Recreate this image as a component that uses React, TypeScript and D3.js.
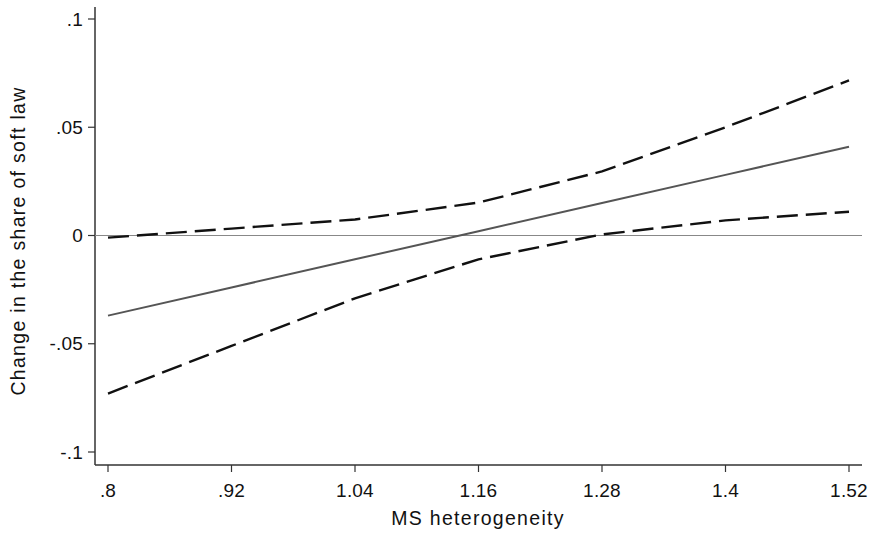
import React from "react";
import * as d3 from "d3";

// values
const xTicks = [0.8, 0.92, 1.04, 1.16, 1.28, 1.4, 1.52];
const xTickLabels = [".8", ".92", "1.04", "1.16", "1.28", "1.4", "1.52"];
const yTicks = [0.1, 0.05, 0, -0.05, -0.1];
const yTickLabels = [".1", ".05", "0", "-.05", "-.1"];

const xs = [0.8, 0.92, 1.04, 1.16, 1.28, 1.4, 1.52];
const effect = [-0.037, -0.024, -0.011, 0.002, 0.015, 0.028, 0.041];
const upper = [-0.001, 0.0032, 0.0074, 0.0152, 0.0296, 0.05, 0.0716];
const lower = [-0.073, -0.051, -0.029, -0.011, 0.0005, 0.007, 0.011];

const W = 876;
const H = 534;
const font = "'Liberation Sans', Arial, sans-serif";

const App = () => {
  const x = d3.scaleLinear().domain([0.8, 1.52]).range([108, 849]);
  const y = d3.scaleLinear().domain([-0.1, 0.1]).range([452, 19]);
  const axisX = 95;
  const axisY = 465;

  const line = (vals: number[]) =>
    d3.line<number>().x((_, i) => x(xs[i])).y((d) => y(d))(vals) || "";

  return (
    <svg
      width={W}
      height={H}
      style={{ position: "absolute", left: 0, top: 0, background: "#fff" }}
      fontFamily={font}
    >
      {/* axes */}
      <line x1={axisX} x2={axisX} y1={7} y2={axisY} stroke="#333" strokeWidth={1.5} />
      <line x1={axisX} x2={862} y1={axisY} y2={axisY} stroke="#333" strokeWidth={1.5} />

      {yTicks.map((t, i) => (
        <g key={"y" + i}>
          <line x1={axisX - 7} x2={axisX} y1={y(t)} y2={y(t)} stroke="#333" strokeWidth={1.2} />
          <text x={axisX - 12} y={y(t)} dy="0.35em" textAnchor="end" fontSize={19} letterSpacing={0.2} fill="#111">
            {yTickLabels[i]}
          </text>
        </g>
      ))}

      {xTicks.map((t, i) => (
        <g key={"x" + i}>
          <line x1={x(t)} x2={x(t)} y1={axisY} y2={axisY + 7} stroke="#333" strokeWidth={1.2} />
          <text x={x(t)} y={497} textAnchor="middle" fontSize={19} letterSpacing={0.2} fill="#111">
            {xTickLabels[i]}
          </text>
        </g>
      ))}

      {/* zero reference line */}
      <line x1={axisX} x2={862} y1={y(0)} y2={y(0)} stroke="#888" strokeWidth={1.2} />

      {/* confidence bounds */}
      <path d={line(upper)} fill="none" stroke="#111" strokeWidth={2.4} strokeDasharray="21,8" />
      <path d={line(lower)} fill="none" stroke="#111" strokeWidth={2.4} strokeDasharray="21,8" />

      {/* marginal effect */}
      <path d={line(effect)} fill="none" stroke="#555" strokeWidth={2} />

      {/* axis titles */}
      <text x={478} y={525} textAnchor="middle" fontSize={19.5} letterSpacing={1.3} fill="#111">
        MS heterogeneity
      </text>
      <text
        transform={`translate(25,241) rotate(-90)`}
        textAnchor="middle"
        fontSize={19.5}
        letterSpacing={1.3}
        fill="#111"
      >
        Change in the share of soft law
      </text>
    </svg>
  );
};

export default App;
